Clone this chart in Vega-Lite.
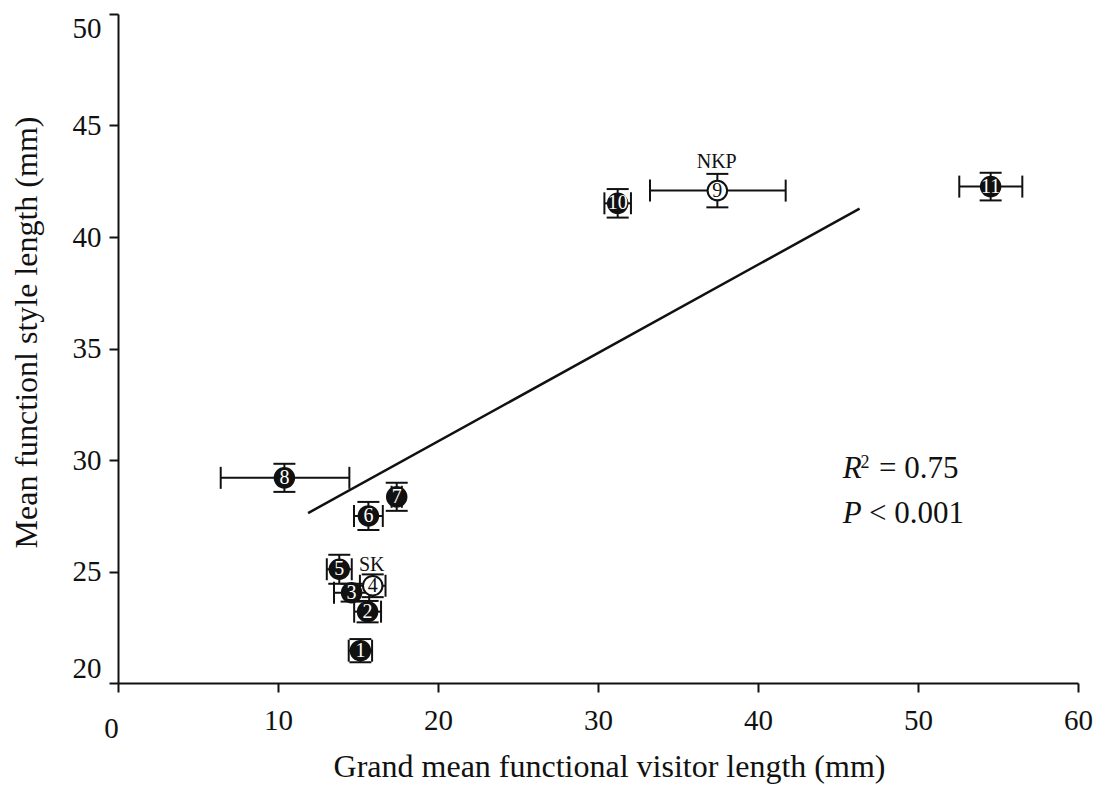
{
  "$schema": "https://vega.github.io/schema/vega-lite/v6.json",
  "autosize": {"type": "none"},
  "width": 960,
  "height": 669,
  "padding": {"left": 118, "top": 14, "right": 22, "bottom": 102},
  "background": "white",
  "config": {"view": {"stroke": null}, "font": "Liberation Serif"},
  "datasets": {
    "pts": [
      {"id": "1", "x": 15.15, "y": 21.45, "xlo": 14.42, "xhi": 15.88, "ylo": 20.93, "yhi": 21.97, "kind": "filled"},
      {"id": "2", "x": 15.6, "y": 23.2, "xlo": 14.76, "xhi": 16.44, "ylo": 22.72, "yhi": 23.68, "kind": "filled"},
      {"id": "3", "x": 14.6, "y": 24.05, "xlo": 13.5, "xhi": 15.7, "ylo": 23.65, "yhi": 24.45, "kind": "filled"},
      {"id": "4", "x": 15.92, "y": 24.36, "xlo": 15.12, "xhi": 16.72, "ylo": 23.85, "yhi": 24.87, "kind": "open"},
      {"id": "5", "x": 13.83, "y": 25.1, "xlo": 13.05, "xhi": 14.61, "ylo": 24.45, "yhi": 25.75, "kind": "filled"},
      {"id": "6", "x": 15.65, "y": 27.49, "xlo": 14.75, "xhi": 16.55, "ylo": 26.86, "yhi": 28.12, "kind": "filled"},
      {"id": "7", "x": 17.42, "y": 28.35, "xlo": 17.1, "xhi": 17.74, "ylo": 27.72, "yhi": 28.98, "kind": "filled"},
      {"id": "8", "x": 10.4, "y": 29.2, "xlo": 6.42, "xhi": 14.46, "ylo": 28.57, "yhi": 29.83, "kind": "filled"},
      {"id": "9", "x": 37.46, "y": 42.08, "xlo": 33.25, "xhi": 41.73, "ylo": 41.33, "yhi": 42.83, "kind": "open"},
      {"id": "10", "x": 31.23, "y": 41.51, "xlo": 30.4, "xhi": 32.06, "ylo": 40.87, "yhi": 42.15, "kind": "filled"},
      {"id": "11", "x": 54.54, "y": 42.26, "xlo": 52.58, "xhi": 56.52, "ylo": 41.64, "yhi": 42.88, "kind": "filled"}
    ],
    "fit": [{"x": 11.88, "y": 27.62}, {"x": 46.35, "y": 41.27}],
    "groups": [{"x": 15.86, "y": 25.29, "t": "SK"}, {"x": 37.42, "y": 43.38, "t": "NKP"}],
    "ital": [{"x": 45.3, "y": 29.2, "t": "R"}, {"x": 45.3, "y": 27.18, "t": "P"}],
    "sup": [{"x": 46.4, "y": 29.62, "t": "2"}],
    "plain": [{"x": 47.56, "y": 29.2, "t": "= 0.75"}, {"x": 46.94, "y": 27.18, "t": "< 0.001"}]
  },
  "layer": [
    {
      "data": {"name": "fit"},
      "mark": {"type": "line", "color": "#111", "strokeWidth": 2.5},
      "encoding": {
        "x": {"field": "x", "type": "quantitative", "scale": {"domain": [0, 60], "nice": false, "zero": false},
          "axis": {
            "values": [0, 10, 20, 30, 40, 50, 60],
            "title": "Grand mean functional visitor length (mm)",
            "grid": false,
            "domainColor": "#111", "domainWidth": 2,
            "tickColor": "#111", "tickWidth": 2, "tickSize": 9,
            "labelFont": "Liberation Serif", "labelFontSize": 29, "labelColor": "#111",
            "labelPadding": {"condition": {"test": "datum.value === 0", "value": 22}, "value": 14},
            "labelOffset": {"condition": {"test": "datum.value === 0", "value": -7}, "value": 0},
            "labelFlush": false, "labelOverlap": false,
            "titleFont": "Liberation Serif", "titleFontSize": 32, "titleFontWeight": "normal", "titleColor": "#111",
            "titleX": 491, "titleY": 68, "titleBaseline": "top"
          }},
        "y": {"field": "y", "type": "quantitative", "scale": {"domain": [20, 50], "nice": false, "zero": false},
          "axis": {
            "values": [20, 25, 30, 35, 40, 45, 50],
            "title": "Mean functionl style length (mm)",
            "grid": false,
            "domainColor": "#111", "domainWidth": 2,
            "tickColor": "#111", "tickWidth": 2, "tickSize": 9,
            "labelFont": "Liberation Serif", "labelFontSize": 29, "labelColor": "#111",
            "labelPadding": 8, "labelFlush": true, "labelOverlap": false,
            "titleFont": "Liberation Serif", "titleFontSize": 32, "titleFontWeight": "normal", "titleColor": "#111",
            "titleX": -75, "titleY": 318
          }}
      }
    },
    {
      "data": {"name": "pts"},
      "mark": {"type": "rule", "color": "#111", "strokeWidth": 2},
      "encoding": {
        "x": {"field": "xlo", "type": "quantitative", "scale": {"domain": [0, 60], "nice": false, "zero": false}},
        "x2": {"field": "xhi"},
        "y": {"field": "y", "type": "quantitative", "scale": {"domain": [20, 50], "nice": false, "zero": false}}
      }
    },
    {
      "data": {"name": "pts"},
      "mark": {"type": "rule", "color": "#111", "strokeWidth": 2},
      "encoding": {
        "x": {"field": "x", "type": "quantitative", "scale": {"domain": [0, 60], "nice": false, "zero": false}},
        "y": {"field": "ylo", "type": "quantitative", "scale": {"domain": [20, 50], "nice": false, "zero": false}},
        "y2": {"field": "yhi"}
      }
    },
    {
      "data": {"name": "pts"},
      "mark": {"type": "tick", "orient": "vertical", "size": 22, "thickness": 2, "color": "#111", "opacity": 1},
      "encoding": {
        "x": {"field": "xlo", "type": "quantitative", "scale": {"domain": [0, 60], "nice": false, "zero": false}},
        "y": {"field": "y", "type": "quantitative", "scale": {"domain": [20, 50], "nice": false, "zero": false}}
      }
    },
    {
      "data": {"name": "pts"},
      "mark": {"type": "tick", "orient": "vertical", "size": 22, "thickness": 2, "color": "#111", "opacity": 1},
      "encoding": {
        "x": {"field": "xhi", "type": "quantitative", "scale": {"domain": [0, 60], "nice": false, "zero": false}},
        "y": {"field": "y", "type": "quantitative", "scale": {"domain": [20, 50], "nice": false, "zero": false}}
      }
    },
    {
      "data": {"name": "pts"},
      "mark": {"type": "tick", "orient": "horizontal", "size": 22, "thickness": 2, "color": "#111", "opacity": 1},
      "encoding": {
        "x": {"field": "x", "type": "quantitative", "scale": {"domain": [0, 60], "nice": false, "zero": false}},
        "y": {"field": "ylo", "type": "quantitative", "scale": {"domain": [20, 50], "nice": false, "zero": false}}
      }
    },
    {
      "data": {"name": "pts"},
      "mark": {"type": "tick", "orient": "horizontal", "size": 22, "thickness": 2, "color": "#111", "opacity": 1},
      "encoding": {
        "x": {"field": "x", "type": "quantitative", "scale": {"domain": [0, 60], "nice": false, "zero": false}},
        "y": {"field": "yhi", "type": "quantitative", "scale": {"domain": [20, 50], "nice": false, "zero": false}}
      }
    },
    {
      "data": {"name": "pts"},
      "mark": {"type": "circle", "size": 380, "stroke": "#111", "strokeWidth": 2, "opacity": 1},
      "encoding": {
        "x": {"field": "x", "type": "quantitative", "scale": {"domain": [0, 60], "nice": false, "zero": false}},
        "y": {"field": "y", "type": "quantitative", "scale": {"domain": [20, 50], "nice": false, "zero": false}},
        "fill": {"condition": {"test": "datum.kind === 'open'", "value": "white"}, "value": "#111"}
      }
    },
    {
      "data": {"name": "pts"},
      "mark": {"type": "text", "font": "Liberation Serif", "fontSize": 20, "align": "center", "baseline": "middle"},
      "encoding": {
        "x": {"field": "x", "type": "quantitative", "scale": {"domain": [0, 60], "nice": false, "zero": false}},
        "y": {"field": "y", "type": "quantitative", "scale": {"domain": [20, 50], "nice": false, "zero": false}},
        "text": {"field": "id"},
        "color": {"condition": {"test": "datum.kind === 'open'", "value": "#111"}, "value": "white"}
      }
    },
    {
      "data": {"name": "groups"},
      "mark": {"type": "text", "font": "Liberation Serif", "fontSize": 20, "align": "center", "baseline": "middle", "color": "#111"},
      "encoding": {
        "x": {"field": "x", "type": "quantitative", "scale": {"domain": [0, 60], "nice": false, "zero": false}},
        "y": {"field": "y", "type": "quantitative", "scale": {"domain": [20, 50], "nice": false, "zero": false}},
        "text": {"field": "t"}
      }
    },
    {
      "data": {"name": "ital"},
      "mark": {"type": "text", "font": "Liberation Serif", "fontSize": 31, "fontStyle": "italic", "align": "left", "baseline": "alphabetic", "color": "#111"},
      "encoding": {
        "x": {"field": "x", "type": "quantitative", "scale": {"domain": [0, 60], "nice": false, "zero": false}},
        "y": {"field": "y", "type": "quantitative", "scale": {"domain": [20, 50], "nice": false, "zero": false}},
        "text": {"field": "t"}
      }
    },
    {
      "data": {"name": "sup"},
      "mark": {"type": "text", "font": "Liberation Serif", "fontSize": 18, "align": "left", "baseline": "alphabetic", "color": "#111"},
      "encoding": {
        "x": {"field": "x", "type": "quantitative", "scale": {"domain": [0, 60], "nice": false, "zero": false}},
        "y": {"field": "y", "type": "quantitative", "scale": {"domain": [20, 50], "nice": false, "zero": false}},
        "text": {"field": "t"}
      }
    },
    {
      "data": {"name": "plain"},
      "mark": {"type": "text", "font": "Liberation Serif", "fontSize": 31, "align": "left", "baseline": "alphabetic", "color": "#111"},
      "encoding": {
        "x": {"field": "x", "type": "quantitative", "scale": {"domain": [0, 60], "nice": false, "zero": false}},
        "y": {"field": "y", "type": "quantitative", "scale": {"domain": [20, 50], "nice": false, "zero": false}},
        "text": {"field": "t"}
      }
    }
  ]
}
